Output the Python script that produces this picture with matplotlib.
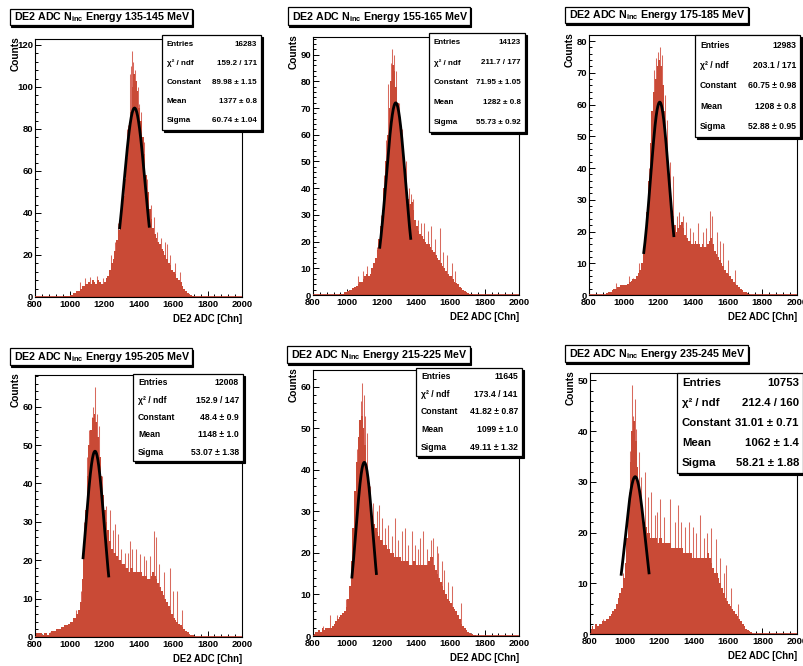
import numpy as np
import matplotlib
matplotlib.use("Agg")
import matplotlib.pyplot as plt
from matplotlib.patches import Rectangle
from matplotlib.ticker import MultipleLocator, AutoMinorLocator

plt.rcParams['font.family'] = ['Liberation Sans', 'DejaVu Sans']
plt.rcParams['font.weight'] = 'bold'
plt.rcParams['mathtext.fontset'] = 'custom'
plt.rcParams['mathtext.rm'] = 'Liberation Sans:bold'
plt.rcParams['mathtext.it'] = 'Liberation Sans:bold'
plt.rcParams['mathtext.bf'] = 'Liberation Sans:bold'

W, H = 804, 666
BIN = 10
EDGES = np.arange(800, 2001, BIN)

# ---- per-panel labels and fit results ----
energy_ranges = ["135-145", "155-165", "175-185", "195-205", "215-225", "235-245"]
entries = ["16283", "14123", "12983", "12008", "11645", "10753"]
chi2_ndf = ["159.2 / 171", "211.7 / 177", "203.1 / 171", "152.9 / 147", "173.4 / 141", "212.4 / 160"]
constant = ["89.98 ± 1.15", "71.95 ± 1.05", "60.75 ± 0.98", "48.4 ± 0.9", "41.82 ± 0.87", "31.01 ± 0.71"]
mean = ["1377 ± 0.8", "1282 ± 0.8", "1208 ± 0.8", "1148 ± 1.0", "1099 ± 1.0", "1062 ± 1.4"]
sigma = ["60.74 ± 1.04", "55.73 ± 0.92", "52.88 ± 0.95", "53.07 ± 1.38", "49.11 ± 1.32", "58.21 ± 1.88"]
fit_lo = [1290, 1188, 1115, 1078, 1026, 980]
fit_hi = [1463, 1370, 1290, 1228, 1170, 1143]

# ---- counts per channel, averaged over 10-channel bins from 800 to 2000 ----
counts_135 = ([0] * 10 +
              [0, 0, 0, 0, 0, 0, 0, 0.3, 0.5, 0.5] +
              [1, 1, 2, 2, 3, 3, 4, 5, 5, 6] +
              [6, 7, 6, 8, 7, 6, 8, 7, 6, 6] +
              [7, 9, 10, 13, 16, 18, 22, 27, 32, 36] +
              [42, 48, 56, 66, 76, 88, 100, 106, 103, 98] +
              [90, 84, 76, 68, 58, 50, 42, 37, 33, 30] +
              [28, 26, 25, 23, 22, 20, 18, 16, 15, 13] +
              [12, 11, 9, 8, 7, 5, 4, 3, 2, 1.5] +
              [1, 0.5, 0.3, 0, 0, 0, 0, 0, 0, 0] +
              [0] * 20)
counts_155 = ([0] * 10 +
              [0, 0, 0, 0, 0, 0.3, 0.5, 0.5, 1, 1] +
              [1.5, 2, 2, 2.5, 3, 3.5, 4, 5, 5, 6] +
              [7, 8, 7, 8, 10, 12, 14, 17, 21, 26] +
              [32, 40, 50, 60, 70, 80, 86, 84, 78, 72] +
              [64, 58, 52, 46, 40, 36, 34, 35, 32, 28] +
              [26, 24, 23, 22, 21, 20, 19, 19, 18, 17] +
              [16, 15, 14, 13, 12, 11, 10, 9, 8, 7] +
              [7, 6, 5, 4.5, 4, 3, 2.5, 2, 1.5, 1] +
              [0.8, 0.5, 0.3, 0, 0, 0, 0, 0, 0, 0] +
              [0] * 20)
counts_175 = ([0] * 10 +
              [0.5, 1, 1, 1.5, 2, 2, 2.5, 2.5, 3, 3] +
              [3, 3, 3.5, 4, 4.5, 5, 5, 6, 7, 8] +
              [10, 13, 18, 26, 36, 48, 58, 64, 68, 72] +
              [74, 72, 66, 58, 48, 40, 34, 29, 25, 22] +
              [20, 21, 22, 23, 21, 19, 18, 17, 17, 16] +
              [16, 17, 16, 16, 15, 16, 15, 15, 16, 17] +
              [18, 16, 14, 13, 12, 11, 10, 9, 8, 7] +
              [6.5, 6, 5, 4, 3.5, 3, 2.5, 2, 1.5, 1] +
              [0.8, 0.5, 0.3, 0, 0, 0, 0, 0, 0, 0] +
              [0] * 20)
counts_195 = ([1, 1, 1, 1, 0.5, 1, 1, 0.5, 1, 1.5] +
              [1.5, 1.5, 2, 2, 2, 2.5, 2.5, 3, 3, 3.5] +
              [4, 4, 5, 5, 6, 7, 9, 15, 22, 33] +
              [42, 50, 54, 57, 58, 56, 52, 47, 42, 37] +
              [33, 30, 28, 25, 23, 22, 22, 21, 20, 20] +
              [19, 19, 18, 18, 17, 18, 18, 17, 17, 17] +
              [17, 17, 16, 16, 16, 15, 15, 16, 17, 16] +
              [15, 14, 13, 12, 11, 10, 9, 8, 7, 6] +
              [5, 4.5, 4, 3.5, 3, 2.5, 2, 1.5, 1.2, 0.8] +
              [0.6, 0.4, 0.3, 0, 0, 0, 0, 0, 0, 0] +
              [0] * 20)
counts_215 = ([0.5, 1, 1, 1.5, 1, 2, 1.5, 2, 2, 2] +
              [2, 2.5, 3, 3.5, 4, 4.5, 5, 5.5, 6, 7] +
              [9, 12, 18, 26, 35, 42, 48, 52, 53, 50] +
              [46, 40, 36, 32, 29, 27, 26, 25, 24, 23] +
              [23, 22, 22, 21, 21, 20, 20, 19, 19, 19] +
              [19, 18, 18, 18, 18, 18, 17, 17, 18, 18] +
              [17, 17, 17, 17, 17, 17, 17, 18, 19, 19] +
              [17, 16, 15, 14, 13, 12, 11, 10, 9, 8.5] +
              [8, 7, 6.5, 6, 5, 4, 3, 2.5, 2, 1.5] +
              [1, 0.8, 0.5, 0.3, 0.3, 0, 0, 0, 0, 0] +
              [0] * 20)
counts_235 = ([1, 1.5, 1, 2, 1.5, 2, 2, 2.5, 2.5, 3] +
              [3, 3.5, 4, 4.5, 5, 6, 7, 8, 9, 11] +
              [14, 19, 26, 34, 40, 42, 38, 33, 29, 26] +
              [24, 22, 21, 20, 20, 19, 19, 19, 19, 18] +
              [19, 19, 18, 18, 18, 18, 18, 17, 17, 17] +
              [17, 17, 17, 17, 16, 16, 16, 16, 16, 15] +
              [15, 15, 15, 15, 15, 15, 15, 15, 16, 15] +
              [14, 13, 12, 12, 11, 10, 9, 8, 7, 6.5] +
              [6, 5.5, 5, 4.5, 4, 3.5, 3, 2.5, 2, 1.5] +
              [1, 0.7, 0.5, 0.3, 0, 0, 0, 0, 0, 0] +
              [0] * 20)
counts = [counts_135, counts_155, counts_175, counts_195, counts_215, counts_235]

# ---- single-channel spikes standing above the binned body ----
spike_ch = [
    [1119, 1157, 1192, 1215, 1332, 1351, 1358, 1364, 1371, 1378, 1388, 1404, 1472, 1490, 1553, 1563, 1612,
     1060, 1090, 1240, 1262, 1281, 1300, 1318, 1342, 1396, 1415, 1432, 1452, 1510, 1530, 1585, 1640],
    [1113, 1151, 1239, 1254, 1262, 1270, 1281, 1371, 1384, 1449, 1487, 1540, 1608,
     1060, 1090, 1170, 1195, 1212, 1225, 1300, 1320, 1340, 1360, 1410, 1430, 1470, 1510, 1560, 1580, 1630],
    [958, 1054, 1175, 1188, 1200, 1212, 1223, 1237, 1285, 1342, 1362, 1429, 1500, 1512, 1573,
     1030, 1090, 1110, 1130, 1148, 1160, 1250, 1265, 1305, 1322, 1380, 1400, 1455, 1475, 1540, 1555,
     1600, 1640],
    [887, 993, 1128, 1138, 1150, 1157, 1173, 1235, 1264, 1283, 1351, 1386, 1409, 1490, 1501, 1583, 1621,
     1040, 1065, 1085, 1100, 1112, 1190, 1210, 1250, 1300, 1322, 1340, 1365, 1430, 1445, 1465, 1520,
     1545, 1600, 1650],
    [860, 899, 1080, 1087, 1095, 1103, 1115, 1171, 1184, 1204, 1239, 1278, 1317, 1336, 1375, 1423, 1443,
     1501, 1520, 1550, 1588,
     940, 990, 1025, 1040, 1055, 1070, 1130, 1150, 1220, 1260, 1295, 1355, 1395, 1410, 1465, 1485,
     1530, 1565, 1610, 1660],
    [875, 943, 972, 1042, 1049, 1059, 1069, 1084, 1117, 1156, 1175, 1208, 1262, 1310, 1374, 1436, 1503,
     1532, 1590,
     990, 1010, 1025, 1032, 1095, 1135, 1190, 1230, 1290, 1330, 1350, 1400, 1415, 1460, 1480, 1555,
     1575, 1620, 1660],
]
spike_h = [
    [9.5, 10, 9, 9, 80, 106, 110, 117, 112, 108, 100, 92, 44, 38, 26, 25, 16,
     7, 9, 20, 26, 35, 46, 60, 82, 100, 88, 74, 56, 31, 28, 20, 12],
    [11, 11, 79, 87, 92, 90, 84, 38, 36, 27, 26, 25, 12,
     7, 9, 18, 30, 45, 58, 72, 62, 50, 40, 28, 27, 24, 21, 16, 15, 9],
    [3.7, 5.3, 71, 74.5, 76.6, 78, 75.6, 63, 37.5, 25, 23, 22.7, 26.4, 25, 16.4,
     6, 10, 15, 24, 40, 55, 55, 42, 25, 26, 21, 20, 20, 21, 20, 17, 11, 8],
    [1.4, 3.2, 57.4, 60, 65, 58, 55, 33, 29.4, 26.8, 25, 23, 21.5, 27.7, 26, 18, 12,
     7, 12, 30, 47, 54, 42, 34, 28, 23, 22, 22, 23, 21, 20, 21, 19, 17, 12, 7],
    [2.3, 5, 56.6, 61, 58, 53, 49, 30, 31.6, 28.4, 26.8, 28.4, 25.2, 26, 25.2, 23.6, 25.2,
     23.6, 21.6, 18, 13,
     5, 9, 22, 33, 45, 52, 36, 32, 26, 24, 23, 22, 22, 21, 21, 23, 20, 16, 12, 8],
    [3, 5, 7, 49, 43, 46.4, 40.5, 35.9, 32, 28, 23.4, 26.7, 26.7, 25.4, 22, 23.4, 20.8, 18.8, 13.6,
     12, 18, 28, 36, 31, 27, 24, 23, 22, 22, 21, 21, 20, 19, 20, 15, 12, 9, 6],
]

y_major = [20, 10, 10, 10, 10, 10]

# ---- layout in pixels (left, top, right, bottom) ----
axes_px = [(35, 39, 242, 297), (313, 37, 519, 295), (589, 35, 797, 295),
           (35, 375, 242, 637), (313, 370, 519, 636), (590, 373, 797, 634)]
title_px = [(10, 9, 192, 25), (288, 7, 470, 25), (565, 7, 748, 23),
            (10, 348, 192, 365), (287, 346, 470, 363), (565, 345, 748, 362)]
stats_px = [(162, 35, 261, 130), (429, 33, 525, 132), (695, 35, 800, 137),
            (133, 374, 243, 461), (416, 368, 522, 456), (677, 373, 803, 473)]
stats_fs = [5.8, 5.8, 6.2, 6.2, 6.2, 8.2]

BODY = '#c94a36'
SPIKE = '#d86a5e'

fig = plt.figure(figsize=(W / 100, H / 100), dpi=100)
fig.patch.set_facecolor('white')


def fx(px):
    return px / W


def fy(py):
    return 1 - py / H


def boxed(x0, y0, x1, y1, shadow=2):
    sh = Rectangle((fx(x0 + shadow), fy(y1 + shadow)), (x1 - x0) / W, (y1 - y0) / H,
                   transform=fig.transFigure, facecolor='black', edgecolor='black',
                   lw=0.8, zorder=20)
    bx = Rectangle((fx(x0), fy(y1)), (x1 - x0) / W, (y1 - y0) / H,
                   transform=fig.transFigure, facecolor='white', edgecolor='black',
                   lw=0.9, zorder=21)
    fig.add_artist(sh)
    fig.add_artist(bx)


for i in range(6):
    l, t, r, b = axes_px[i]
    ax = fig.add_axes([fx(l), fy(b), (r - l) / W, (b - t) / H])
    vals = np.asarray(counts[i], dtype=float)
    ax.vlines(spike_ch[i], 0, spike_h[i], color=SPIKE, lw=0.75, zorder=1)
    ax.stairs(vals, EDGES, fill=True, color=BODY, lw=0, zorder=2)
    ax.axhline(0, color='#b8392a', lw=1.2, zorder=3)

    c = float(constant[i].split('±')[0])
    m = float(mean[i].split('±')[0])
    s = float(sigma[i].split('±')[0])
    xf = np.linspace(fit_lo[i], fit_hi[i], 200)
    ax.plot(xf, c * np.exp(-0.5 * ((xf - m) / s) ** 2), color='black', lw=2.0,
            solid_capstyle='butt', zorder=4)

    ymax = 1.05 * max(max(spike_h[i]), vals.max())
    ax.set_xlim(800, 2000)
    ax.set_ylim(0, ymax)
    ax.xaxis.set_major_locator(MultipleLocator(200))
    ax.xaxis.set_minor_locator(MultipleLocator(40))
    ax.yaxis.set_major_locator(MultipleLocator(y_major[i]))
    ax.yaxis.set_minor_locator(AutoMinorLocator(5))
    ax.tick_params(axis='both', which='both', direction='in', labelsize=6.8,
                   top=False, right=False, width=0.7)
    ax.tick_params(axis='both', which='major', length=4.5)
    ax.tick_params(axis='both', which='minor', length=2.2)
    ax.tick_params(axis='x', pad=2.5)
    ax.tick_params(axis='y', pad=1.5)
    for lab in ax.get_xticklabels() + ax.get_yticklabels():
        lab.set_fontweight('bold')
    for sp in ax.spines.values():
        sp.set_linewidth(0.8)

    # axis titles
    fig.text(fx(l - 14), fy(t - 3), 'Counts', rotation=90, ha='right', va='top',
             fontsize=7.3, fontweight='bold', zorder=30)
    fig.text(fx(r), fy(b + 22), 'DE2 ADC [Chn]', ha='right', va='center',
             fontsize=6.9, fontweight='bold')

    # histogram title box
    x0, y0, x1, y1 = title_px[i]
    boxed(x0, y0, x1, y1, shadow=1.5)
    fig.text(fx(x0 + 4), fy((y0 + y1) / 2 + 0.5),
             r'DE2 ADC N$_{\mathrm{inc}}$ Energy ' + energy_ranges[i] + ' MeV',
             ha='left', va='center', fontsize=7.7, fontweight='bold', zorder=25)

    # statistics box
    x0, y0, x1, y1 = stats_px[i]
    boxed(x0, y0, x1, y1, shadow=2)
    rows = [('Entries', entries[i]), ('χ² / ndf', chi2_ndf[i]), ('Constant', constant[i]),
            ('Mean', mean[i]), ('Sigma', sigma[i])]
    hrow = (y1 - y0) / 5
    for k, (name, val) in enumerate(rows):
        yc = y0 + (k + 0.5) * hrow
        fig.text(fx(x0 + 5), fy(yc), name, ha='left', va='center',
                 fontsize=stats_fs[i], fontweight='bold', zorder=25)
        fig.text(fx(x1 - 4), fy(yc), val, ha='right', va='center',
                 fontsize=stats_fs[i], fontweight='bold', zorder=25)

fig.savefig('out.png', dpi=100, facecolor='white')
